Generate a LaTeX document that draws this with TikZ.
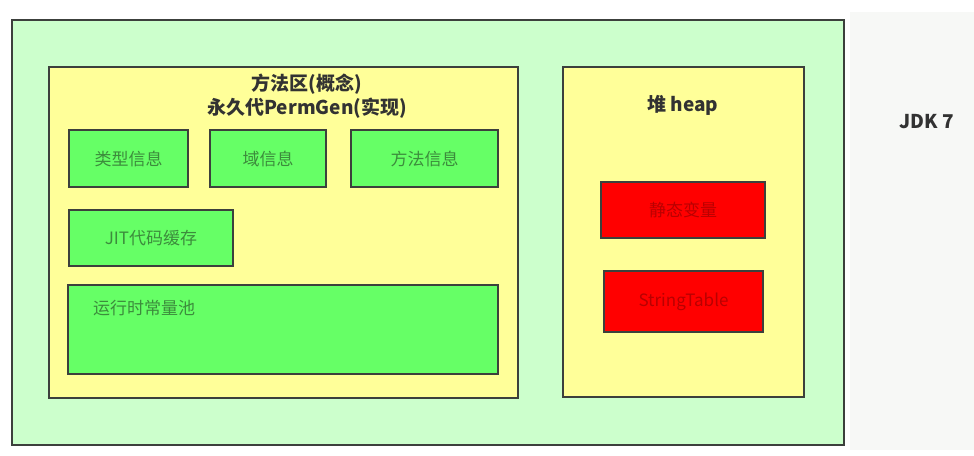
\documentclass[tikz,border=0pt]{standalone}
\usepackage{fontspec}
\newfontfamily\cjk{Noto Sans CJK SC}
\definecolor{outergreen}{RGB}{204,255,204}
\definecolor{permyellow}{RGB}{255,255,153}
\definecolor{boxgreen}{RGB}{102,255,102}
\definecolor{boxred}{RGB}{255,0,0}
\definecolor{edgegrey}{RGB}{60,64,60}
\definecolor{greentext}{RGB}{60,140,60}
\definecolor{redtext}{RGB}{185,0,0}
\definecolor{titletext}{RGB}{50,50,50}
\definecolor{sidegrey}{RGB}{247,248,246}
\tikzset{
  region/.style={draw=edgegrey, line width=2pt, anchor=north west, inner sep=0pt},
  outerbox/.style={region, fill=outergreen},
  permbox/.style={region, fill=permyellow},
  greenbox/.style={region, fill=boxgreen, font=\cjk\fontsize{17}{20}\selectfont, text=greentext},
  redbox/.style={region, fill=boxred, font=\cjk\fontsize{17}{20}\selectfont, text=redtext},
  titlestyle/.style={font=\cjk\bfseries\fontsize{19}{24}\selectfont, text=titletext, align=center, inner sep=0pt},
}
\begin{document}
\begin{tikzpicture}[x=1pt,y=-1pt]
\useasboundingbox[fill=white] (0,0) rectangle (974,455);
\fill[sidegrey] (850,12) rectangle (974,450);
\node[outerbox, minimum width=832pt, minimum height=425pt] (outer) at (11,19) {};
\node[permbox, minimum width=469pt, minimum height=331pt] (perm) at (48,66) {};
\node[permbox, minimum width=241pt, minimum height=330pt] (heap) at (562,66) {};
\node[titlestyle] (permtitle) at (307,96) {方法区(概念)\\永久代PermGen(实现)};
\node[greenbox, minimum width=119pt, minimum height=57pt] (type) at (68,129) {类型信息};
\node[greenbox, minimum width=116pt, minimum height=57pt] (field) at (209,129) {域信息};
\node[greenbox, minimum width=147pt, minimum height=57pt] (method) at (350,129) {方法信息};
\node[greenbox, minimum width=164pt, minimum height=56pt] (jit) at (68,209) {JIT代码缓存};
\node[greenbox, minimum width=430pt, minimum height=89pt] (pool) at (67,284) {};
\node[font=\cjk\fontsize{17}{20}\selectfont, text=greentext, anchor=west, inner sep=0pt] (poollabel) at (93,308) {运行时常量池};
\node[titlestyle] (heaptitle) at (683,105) {堆 heap};
\node[redbox, minimum width=164pt, minimum height=56pt] (static) at (600,181) {静态变量};
\node[redbox, minimum width=159pt, minimum height=61pt] (strtab) at (603,270) {StringTable};
\node[font=\cjk\bfseries\fontsize{19}{24}\selectfont, text=titletext, inner sep=0pt] (jdk) at (927,122) {JDK 7};
\end{tikzpicture}
\end{document}
